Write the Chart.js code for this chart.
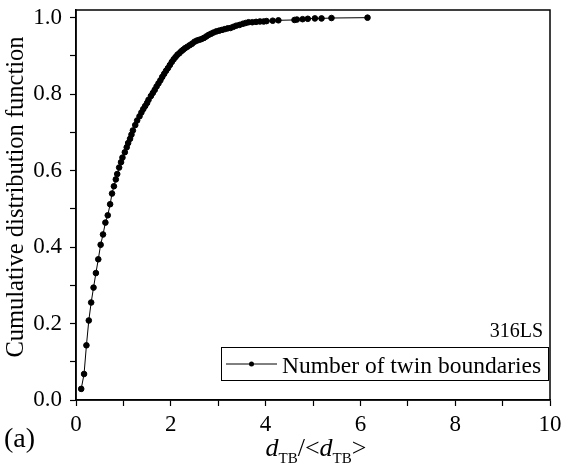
<!DOCTYPE html>
<html lang="en">
<head>
  <meta charset="UTF-8">
  <title>CDF of twin boundary spacing</title>
  <script src="https://cdn.jsdelivr.net/npm/chart.js"></script>
  <style>
    * { margin: 0; padding: 0; box-sizing: border-box; }
    body { background: #fff; width: 561px; height: 468px; overflow: hidden; }
    .chart-container { position: relative; width: 561px; height: 468px; }
  </style>
</head>
<body>
  <div class="chart-container">
    <canvas id="cdfChart"></canvas>
  </div>

  <script>
    // d_TB / <d_TB> values
    const ratioValues = [
      0.11, 0.17, 0.22, 0.27, 0.32, 0.37, 0.42, 0.47, 0.52, 0.57,
      0.62, 0.67, 0.72, 0.76, 0.80, 0.84, 0.87, 0.91, 0.95, 0.98,
      1.03, 1.07, 1.10, 1.14, 1.17, 1.20, 1.25, 1.29, 1.34, 1.38,
      1.42, 1.46, 1.50, 1.53, 1.58, 1.62, 1.66, 1.70, 1.74, 1.78,
      1.82, 1.86, 1.90, 1.94, 1.98, 2.02, 2.06, 2.10, 2.14, 2.18,
      2.22, 2.26, 2.30, 2.35, 2.40, 2.45, 2.50, 2.55, 2.60, 2.65,
      2.70, 2.75, 2.80, 2.85, 2.90, 2.96, 3.02, 3.08, 3.14, 3.20,
      3.26, 3.32, 3.38, 3.45, 3.52, 3.58, 3.64, 3.72, 3.80, 3.88,
      3.96, 4.02, 4.15, 4.27, 4.61, 4.66, 4.78, 4.89, 5.04, 5.18,
      5.39, 6.15
    ];
    // cumulative fraction for each point
    const cdfValues = [
      0.029, 0.068, 0.143, 0.208, 0.255, 0.294, 0.332, 0.368, 0.406, 0.433,
      0.464, 0.483, 0.512, 0.540, 0.559, 0.577, 0.591, 0.608, 0.622, 0.634,
      0.648, 0.661, 0.672, 0.683, 0.694, 0.705, 0.719, 0.731, 0.742, 0.752,
      0.761, 0.769, 0.777, 0.785, 0.795, 0.803, 0.811, 0.820, 0.828, 0.836,
      0.845, 0.853, 0.861, 0.868, 0.876, 0.884, 0.891, 0.897, 0.903, 0.907,
      0.912, 0.916, 0.920, 0.924, 0.928, 0.932, 0.937, 0.940, 0.942, 0.944,
      0.947, 0.951, 0.955, 0.958, 0.961, 0.964, 0.966, 0.968, 0.970, 0.972,
      0.973, 0.976, 0.979, 0.981, 0.984, 0.986, 0.988, 0.988, 0.989, 0.990,
      0.990, 0.991, 0.992, 0.993, 0.994, 0.995, 0.996, 0.997, 0.998, 0.998,
      0.999, 1.000
    ];
    const seriesName = "Number of twin boundaries";
    const sampleName = "316LS";
    const panelLabel = "(a)";
    const yTitle = "Cumulative distribution function";

    const serif = "'Liberation Serif', 'Times New Roman', serif";

    // frame, custom legend, titles with subscripts
    const decorations = {
      id: 'decorations',
      afterDraw(chart) {
        const ctx = chart.ctx;
        const a = chart.chartArea;
        ctx.save();
        ctx.strokeStyle = '#000';
        ctx.lineWidth = 1.5;
        ctx.strokeRect(a.left, a.top, a.right - a.left, a.bottom - a.top);

        // legend box
        const bx = 221, by = 347, bw = 327, bh = 33;
        ctx.lineWidth = 1;
        ctx.strokeRect(bx + 0.5, by + 0.5, bw, bh);
        ctx.beginPath();
        ctx.moveTo(bx + 5, by + 17);
        ctx.lineTo(bx + 56, by + 17);
        ctx.stroke();
        ctx.beginPath();
        ctx.arc(bx + 30.5, by + 17, 2.5, 0, Math.PI * 2);
        ctx.fillStyle = '#000';
        ctx.fill();
        ctx.font = `23.5px ${serif}`;
        ctx.textBaseline = 'alphabetic';
        ctx.textAlign = 'left';
        ctx.fillText(seriesName, bx + 61, by + 26);

        ctx.font = `20px ${serif}`;
        ctx.textAlign = 'right';
        ctx.fillText(sampleName, 543, 337);

        ctx.font = `28px ${serif}`;
        ctx.textAlign = 'left';
        ctx.fillText(panelLabel, 4, 447);

        // x title: d_TB/<d_TB>
        const big = `italic 26px ${serif}`;
        const norm = `26px ${serif}`;
        const sub = `15px ${serif}`;
        const parts = [
          [big, 'd', 0], [sub, 'TB', 7], [norm, '/<', 0],
          [big, 'd', 0], [sub, 'TB', 7], [norm, '>', 0]
        ];
        let total = 0;
        parts.forEach(p => { ctx.font = p[0]; total += ctx.measureText(p[1]).width; });
        let x = (a.left + a.right) / 2 + 3 - total / 2;
        parts.forEach(p => {
          ctx.font = p[0];
          ctx.fillText(p[1], x, 456 + p[2]);
          x += ctx.measureText(p[1]).width;
        });

        // y title
        ctx.translate(17, 197);
        ctx.rotate(-Math.PI / 2);
        ctx.font = `24.5px ${serif}`;
        ctx.textAlign = 'center';
        ctx.textBaseline = 'middle';
        ctx.fillText(yTitle, 0, 0);
        ctx.restore();
      }
    };

    const ctx = document.getElementById('cdfChart').getContext('2d');
    new Chart(ctx, {
      type: 'scatter',
      data: {
        datasets: [{
          label: seriesName,
          data: ratioValues.map((v, i) => ({ x: v, y: cdfValues[i] })),
          showLine: true,
          borderColor: '#000',
          backgroundColor: '#000',
          borderWidth: 1,
          pointRadius: 2.8,
          pointHoverRadius: 2.8,
          tension: 0
        }]
      },
      options: {
        responsive: true,
        maintainAspectRatio: false,
        animation: false,
        layout: { padding: { top: 10, right: 11, left: 0, bottom: 0 } },
        plugins: {
          legend: { display: false },
          tooltip: { enabled: false }
        },
        scales: {
          x: {
            type: 'linear',
            min: 0,
            max: 10,
            afterFit(scale) {
              scale.height = 68;
              scale.paddingLeft = 0;
              scale.paddingRight = 0;
            },
            border: { color: '#000', width: 1.5 },
            grid: { drawOnChartArea: false, drawTicks: true, tickLength: 6, color: '#000', tickWidth: 1.2 },
            ticks: {
              stepSize: 1,
              includeBounds: false,
              maxRotation: 0,
              autoSkip: false,
              padding: 5,
              color: '#000',
              font: { family: serif, size: 23 },
              callback: v => (Math.round(v) % 2 === 0 ? String(Math.round(v)) : '')
            }
          },
          y: {
            type: 'linear',
            min: 0,
            max: 1.02,
            afterFit(scale) {
              scale.width = 76;
              scale.paddingTop = 0;
              scale.paddingBottom = 0;
            },
            border: { color: '#000', width: 1.5 },
            grid: { drawOnChartArea: false, drawTicks: true, tickLength: 6, color: '#000', tickWidth: 1.2 },
            ticks: {
              stepSize: 0.1,
              includeBounds: false,
              autoSkip: false,
              padding: 8,
              color: '#000',
              font: { family: serif, size: 23 },
              callback: v => (Math.round(v * 10) % 2 === 0 ? v.toFixed(1) : '')
            }
          }
        }
      },
      plugins: [decorations]
    });
  </script>
</body>
</html>
